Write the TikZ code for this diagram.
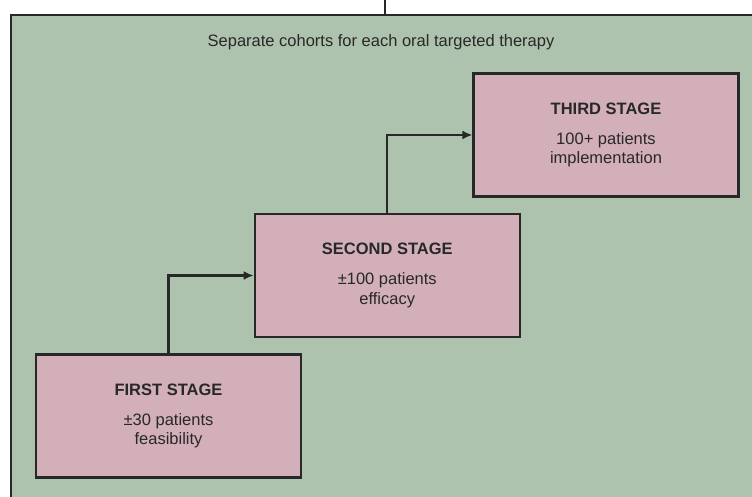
\documentclass[tikz,border=0pt]{standalone}
\usepackage{fontspec}
\setmainfont{Liberation Sans}
\usepackage{tikz}
\usetikzlibrary{arrows.meta, positioning}

\definecolor{panelgreen}{RGB}{174,195,173}
\definecolor{stagepink}{RGB}{211,175,186}
\definecolor{inkgray}{RGB}{40,40,40}

\begin{document}
\begin{tikzpicture}[x=1pt,y=-1pt,node distance=140.5pt and 218.75pt,on grid,
    stage/.style={draw=inkgray,fill=stagepink,line width=2.2pt,
      minimum width=265pt,minimum height=123pt,align=center,text=inkgray,
      font=\fontsize{16.5}{19.5}\selectfont},
    >={Latex[length=10pt,width=9pt]}]
  \useasboundingbox (0,0) rectangle (752,497);
  \clip (0,0) rectangle (752,497);
  \filldraw[fill=panelgreen,draw=inkgray,line width=2.2pt] (11,15) rectangle (780,530);
  \coordinate (cut) at (385,0);
  \coordinate (entry) at (385,15);
  \draw[inkgray,line width=2.2pt] (cut) -- (entry);

  \node[text=inkgray,font=\fontsize{16.5}{19}\selectfont] (cohorts) at (381,42)
    {Separate cohorts for each oral targeted therapy};

  \node[stage] (first) at (168.5,416)
    {\textbf{FIRST STAGE}\\[10.5pt] ±30 patients\\ feasibility};
  \node[stage] (second) [above right=of first]
    {\textbf{SECOND STAGE}\\[10.5pt] ±100 patients\\ efficacy};
  \node[stage] (third) [above right=of second]
    {\textbf{THIRD STAGE}\\[10.5pt] 100+ patients\\ implementation};

  \draw[->,inkgray,line width=2.2pt] (first.north) |- (second.west);
  \draw[->,inkgray,line width=2.2pt] (second.north) |- (third.west);
\end{tikzpicture}
\end{document}
